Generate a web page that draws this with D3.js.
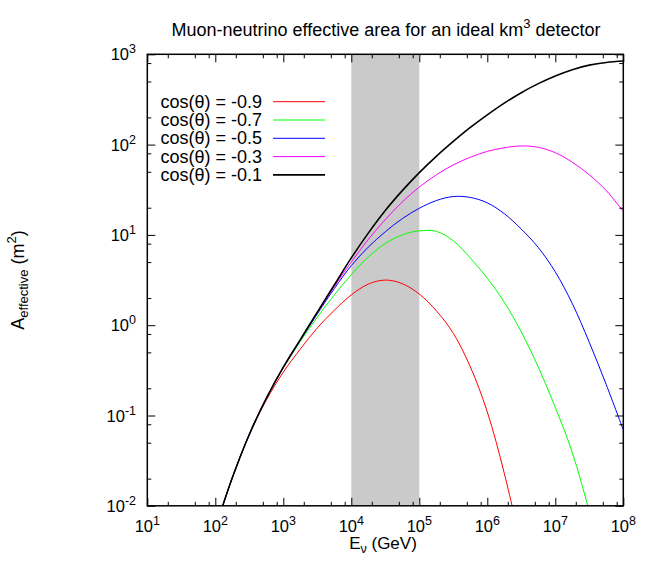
<!DOCTYPE html>
<html>
<head>
<meta charset="utf-8">
<script src="https://cdn.jsdelivr.net/npm/d3@7"></script>
<style>
  html, body { margin: 0; padding: 0; background: #fff; }
  svg { display: block; }
  text { font-family: "Liberation Sans", Arial, Helvetica, sans-serif; fill: #000; }
</style>
</head>
<body>
<svg id="chart" width="654" height="561"></svg>
<script>
// ---- data ----
const energies = [1e2, 1.778e2, 3.162e2, 5.623e2, 1e3, 1.778e3, 3.162e3, 5.623e3,
  1e4, 1.778e4, 3.162e4, 5.623e4, 1e5, 1.778e5, 3.162e5, 5.623e5,
  1e6, 1.778e6, 3.162e6, 5.623e6, 1e7, 1.778e7, 3.162e7, 5.623e7, 1e8];

const seriesLabels = ["cos(θ) = -0.9", "cos(θ) = -0.7", "cos(θ) = -0.5", "cos(θ) = -0.3", "cos(θ) = -0.1"];
const seriesColors = ["#ff0000", "#00ff00", "#0000ff", "#ff00ff", "#000000"];

const areaCosM09 = [0.005623, 0.02042, 0.06166, 0.1479, 0.3020, 0.5433, 0.9333, 1.462, 2.163, 2.851,
  3.162, 2.884, 2.213, 1.445, 0.8128, 0.3467, 0.1096, 0.02291, 0.003548];
const areaCosM07 = [0.005623, 0.02042, 0.06166, 0.1542, 0.3350, 0.6607, 1.230, 2.163, 3.631, 5.689,
  8.035, 10.0, 11.09, 10.96, 8.610, 5.559, 3.311, 1.799, 0.8414, 0.3428, 0.1230, 0.03890, 0.008710, 0.001778];
const areaCosM05 = [0.005623, 0.02042, 0.06166, 0.1546, 0.3404, 0.6808, 1.334, 2.541, 4.571, 7.328,
  10.84, 15.14, 19.72, 23.99, 26.61, 26.00, 22.65, 17.18, 11.61, 7.244, 3.890, 1.738, 0.6457, 0.2188, 0.06918];
const areaCosM03 = [0.005623, 0.02042, 0.06166, 0.1549, 0.3420, 0.6871, 1.374, 2.679, 5.012, 8.913,
  14.79, 23.17, 33.88, 46.24, 59.57, 72.44, 84.14, 92.26, 96.61, 93.33, 81.28, 63.83, 46.24, 30.90, 18.20];
const areaCosM01 = [0.005623, 0.02042, 0.06166, 0.1549, 0.3428, 0.6918, 1.396, 2.786, 5.559, 10.47,
  18.62, 30.90, 48.98, 74.13, 108.4, 154.9, 213.8, 288.4, 375.8, 473.2, 575.4, 676.1, 758.6, 812.8, 841.4];

const seriesValues = [areaCosM09, areaCosM07, areaCosM05, areaCosM03, areaCosM01];

const shadedBand = [1e4, 1e5];
const xMajorTicks = [1e1, 1e2, 1e3, 1e4, 1e5, 1e6, 1e7, 1e8];
const xTickExponents = ["1", "2", "3", "4", "5", "6", "7", "8"];
const yMajorTicks = [1e-2, 1e-1, 1e0, 1e1, 1e2, 1e3];
const yTickExponents = ["-2", "-1", "0", "1", "2", "3"];
const minorMultipliers = [2, 5, 8];

// ---- layout ----
const svg = d3.select("#chart");
const L = 147.3, R = 623.3, T = 54.3, B = 505.8;
const x = d3.scaleLog().domain([1e1, 1e8]).range([L, R]);
const y = d3.scaleLog().domain([1e-2, 1e3]).range([B, T]);

function minorTicks(majors) {
  const out = [];
  majors.slice(0, -1).forEach(m => minorMultipliers.forEach(k => out.push(m * k)));
  return out;
}
const xMinor = minorTicks(xMajorTicks);
const yMinor = minorTicks(yMajorTicks);

svg.append("defs").append("clipPath").attr("id", "plotclip")
  .append("rect").attr("x", L).attr("y", T).attr("width", R - L).attr("height", B - T);

// shaded band
svg.append("rect")
  .attr("x", x(shadedBand[0])).attr("y", T)
  .attr("width", x(shadedBand[1]) - x(shadedBand[0])).attr("height", B - T)
  .attr("fill", "#cacaca");

// curves
const line = d3.line()
  .x(d => x(d[0])).y(d => y(d[1]))
  .curve(d3.curveCatmullRom.alpha(0.5));

const curves = svg.append("g").attr("clip-path", "url(#plotclip)");
seriesValues.forEach((vals, i) => {
  const pts = vals.map((v, j) => [energies[j], v]);
  curves.append("path")
    .attr("d", line(pts))
    .attr("fill", "none")
    .attr("stroke", seriesColors[i])
    .attr("stroke-width", i === 4 ? 1.6 : 1);
});

// axes (ticks inward, mirrored)
function styleAxis(g) {
  g.select(".domain").remove();
  g.selectAll("line").attr("stroke", "#000").attr("stroke-width", 1);
  g.selectAll("text").remove();
}
svg.append("g").attr("transform", `translate(0,${B})`)
  .call(d3.axisBottom(x).tickValues(xMajorTicks).tickSize(-8).tickFormat("")).call(styleAxis);
svg.append("g").attr("transform", `translate(0,${B})`)
  .call(d3.axisBottom(x).tickValues(xMinor).tickSize(-4).tickFormat("")).call(styleAxis);
svg.append("g").attr("transform", `translate(0,${T})`)
  .call(d3.axisTop(x).tickValues(xMajorTicks).tickSize(-8).tickFormat("")).call(styleAxis);
svg.append("g").attr("transform", `translate(0,${T})`)
  .call(d3.axisTop(x).tickValues(xMinor).tickSize(-4).tickFormat("")).call(styleAxis);
svg.append("g").attr("transform", `translate(${L},0)`)
  .call(d3.axisLeft(y).tickValues(yMajorTicks).tickSize(-8).tickFormat("")).call(styleAxis);
svg.append("g").attr("transform", `translate(${L},0)`)
  .call(d3.axisLeft(y).tickValues(yMinor).tickSize(-4).tickFormat("")).call(styleAxis);
svg.append("g").attr("transform", `translate(${R},0)`)
  .call(d3.axisRight(y).tickValues(yMajorTicks).tickSize(-8).tickFormat("")).call(styleAxis);
svg.append("g").attr("transform", `translate(${R},0)`)
  .call(d3.axisRight(y).tickValues(yMinor).tickSize(-4).tickFormat("")).call(styleAxis);

// frame
svg.append("rect").attr("x", L).attr("y", T).attr("width", R - L).attr("height", B - T)
  .attr("fill", "none").attr("stroke", "#000").attr("stroke-width", 1.5);

// tick labels
function powerLabel(sel, exp) {
  sel.append("tspan").text("10");
  sel.append("tspan").attr("dy", -7).attr("font-size", 12.5).text(exp);
}
xMajorTicks.forEach((v, i) => {
  svg.append("text").attr("x", x(v)).attr("y", 531.5).attr("text-anchor", "middle")
    .attr("font-size", 16.5).call(powerLabel, xTickExponents[i]);
});
yMajorTicks.forEach((v, i) => {
  svg.append("text").attr("x", 136).attr("y", y(v) + 6).attr("text-anchor", "end")
    .attr("font-size", 16.5).call(powerLabel, yTickExponents[i]);
});

// title
const title = svg.append("text").attr("x", 386).attr("y", 36).attr("text-anchor", "middle").attr("font-size", 18);
title.append("tspan").text("Muon-neutrino effective area for an ideal km");
title.append("tspan").attr("dy", -8).attr("font-size", 13).text("3");
title.append("tspan").attr("dy", 8).text(" detector");

// x label
const xl = svg.append("text").attr("x", 383).attr("y", 549).attr("text-anchor", "middle").attr("font-size", 17);
xl.append("tspan").text("E");
xl.append("tspan").attr("dy", 4).attr("font-size", 12.5).text("ν");
xl.append("tspan").attr("dy", -4).text(" (GeV)");

// y label
const yl = svg.append("text").attr("transform", "translate(24,280) rotate(-90)")
  .attr("text-anchor", "middle").attr("font-size", 18);
yl.append("tspan").text("A");
yl.append("tspan").attr("dy", 4).attr("font-size", 13).text("effective");
yl.append("tspan").attr("dy", -4).text(" (m");
yl.append("tspan").attr("dy", -8).attr("font-size", 13).text("2");
yl.append("tspan").attr("dy", 8).text(")");

// legend
const legend = svg.append("g");
seriesLabels.forEach((lab, i) => {
  const cy = 101.7 + i * 18.3;
  legend.append("text").attr("x", 262).attr("y", cy + 6).attr("text-anchor", "end")
    .attr("font-size", 18).text(lab);
  legend.append("line").attr("x1", 273).attr("x2", 325).attr("y1", cy).attr("y2", cy)
    .attr("stroke", seriesColors[i]).attr("stroke-width", i === 4 ? 1.6 : 1);
});
</script>
</body>
</html>
